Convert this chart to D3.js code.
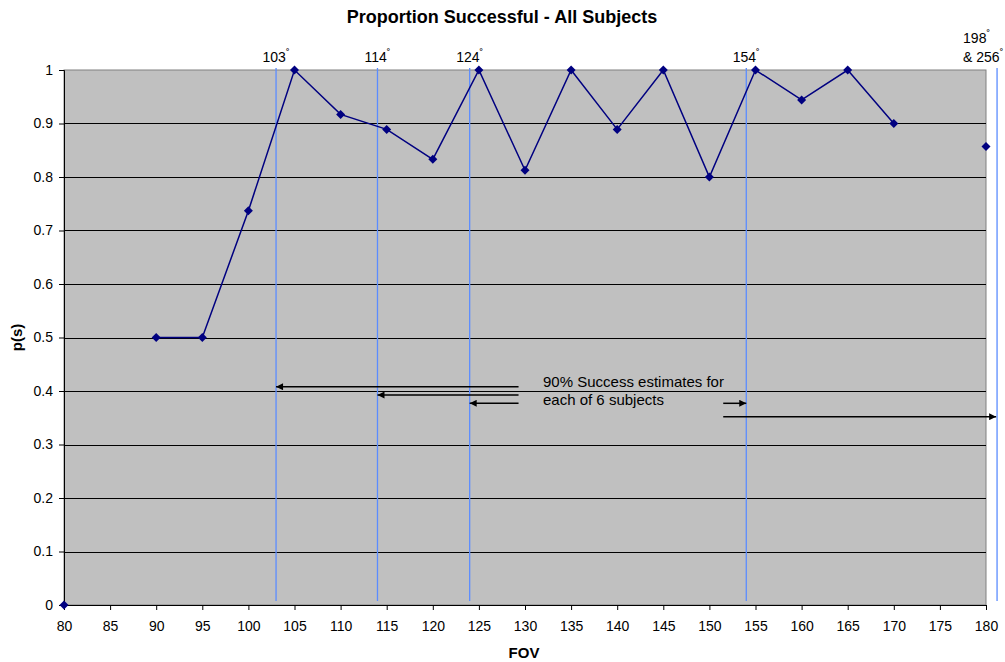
<!DOCTYPE html>
<html>
<head>
<meta charset="utf-8">
<script src="https://cdn.jsdelivr.net/npm/d3@7"></script>
<style>
  body { margin: 0; background: #fff; }
  svg { font-family: "Liberation Sans", Arial, sans-serif; }
</style>
</head>
<body>
<div id="chart"></div>
<script>
// FOV values and proportion successful (null = no data)
const fov = [80, 85, 90, 95, 100, 105, 110, 115, 120, 125, 130, 135, 140, 145, 150, 155, 160, 165, 170, 175, 180];
const pSuccess = [0, null, 0.5, 0.5, 0.737, 1, 0.917, 0.889, 0.833, 1, 0.8125, 1, 0.889, 1, 0.8, 1, 0.944, 1, 0.9, null, 0.857];

// 90% success estimates (vertical marker lines); last one sits just past the axis
const estimates = [103, 114, 124, 154, 181.2];
const estimateLabels = [["103"], ["114"], ["124"], ["154"], ["198", "& 256"]];

// arrows: from x0 to x1 at level y
const arrows = [
  {x0: 129.3, x1: 103, y: 0.408},
  {x0: 129.3, x1: 114, y: 0.3925},
  {x0: 129.3, x1: 124, y: 0.377},
  {x0: 151.5, x1: 154, y: 0.377},
  {x0: 151.5, x1: 181.1, y: 0.352}
];

const xTicks = d3.range(80, 181, 5);
const yTicks = d3.range(0, 1.01, 0.1);

const width = 1005, height = 662;
const margin = {top: 70, right: 19, bottom: 57, left: 64};

const svg = d3.select("#chart").append("svg")
    .attr("width", width)
    .attr("height", height);

const x = d3.scaleLinear().domain([80, 180]).range([margin.left, width - margin.right]);
const y = d3.scaleLinear().domain([0, 1]).range([height - margin.bottom, margin.top]);

// plot background
svg.append("rect")
    .attr("x", x(80)).attr("y", y(1))
    .attr("width", x(180) - x(80)).attr("height", y(0) - y(1))
    .attr("fill", "#c0c0c0")
    .attr("stroke", "#808080");

// gridlines
svg.append("g")
  .selectAll("line")
  .data(yTicks.filter(d => d > 0.05 && d < 0.95))
  .join("line")
    .attr("x1", x(80)).attr("x2", x(180))
    .attr("y1", d => Math.round(y(d)) + 0.5).attr("y2", d => Math.round(y(d)) + 0.5)
    .attr("stroke", "#000")
    .attr("stroke-width", 1);

// estimate lines
svg.append("g")
  .selectAll("line")
  .data(estimates)
  .join("line")
    .attr("x1", d => x(d)).attr("x2", d => x(d))
    .attr("y1", y(1) - 2).attr("y2", y(0) - 4)
    .attr("stroke", "#5b8cff")
    .attr("stroke-width", 1.3);

// estimate labels (with degree sign)
svg.append("g")
    .attr("font-size", 14)
  .selectAll("text")
  .data(estimates)
  .join("text")
    .attr("text-anchor", (d, i) => estimateLabels[i].length > 1 ? "start" : "middle")
    .attr("x", (d, i) => estimateLabels[i].length > 1 ? x(d) - 34 : x(d))
    .attr("y", (d, i) => 62 - (estimateLabels[i].length - 1) * 19)
    .each(function(d, i) {
      const t = d3.select(this);
      const x0 = t.attr("x");
      estimateLabels[i].forEach((s, j) => {
        const ts = t.append("tspan").text(s);
        if (j > 0) ts.attr("x", x0).attr("y", 62);
        t.append("tspan")
          .attr("font-size", 11)
          .attr("baseline-shift", "5")
          .text("˚");
      });
    });

// axes
const xAxis = d3.axisBottom(x).tickValues(xTicks).tickSize(5).tickPadding(11).tickFormat(d3.format("d"));
const gx = svg.append("g")
    .attr("transform", `translate(0,${y(0)})`)
    .call(xAxis);
gx.selectAll("text").attr("font-size", 14).attr("fill", "#000").attr("font-family", "Liberation Sans, Arial, sans-serif");

const yAxis = d3.axisLeft(y).tickValues(yTicks).tickSize(5).tickPadding(6).tickFormat(d => d3.format("")(+d.toFixed(1)));
const gy = svg.append("g")
    .attr("transform", `translate(${x(80)},0)`)
    .call(yAxis);
gy.selectAll("text").attr("font-size", 14).attr("fill", "#000").attr("font-family", "Liberation Sans, Arial, sans-serif");
svg.selectAll(".domain").attr("stroke", "#000");

// arrows
svg.append("defs").append("marker")
    .attr("id", "arrowhead")
    .attr("viewBox", "0 0 10 10")
    .attr("refX", 10).attr("refY", 5)
    .attr("markerWidth", 8).attr("markerHeight", 7)
    .attr("markerUnits", "userSpaceOnUse")
    .attr("orient", "auto")
  .append("path")
    .attr("d", "M0,0L10,5L0,10Z")
    .attr("fill", "#000");

svg.append("g")
  .selectAll("line")
  .data(arrows)
  .join("line")
    .attr("x1", d => x(d.x0)).attr("x2", d => x(d.x1))
    .attr("y1", d => y(d.y)).attr("y2", d => y(d.y))
    .attr("stroke", "#000")
    .attr("stroke-width", 1.5)
    .attr("marker-end", "url(#arrowhead)");

svg.append("text")
    .attr("x", 543).attr("y", 387)
    .attr("font-size", 15)
  .call(t => t.append("tspan").attr("x", 543).text("90% Success estimates for"))
  .call(t => t.append("tspan").attr("x", 543).attr("dy", 18).text("each of 6 subjects"));

// data line
const pts = fov.map((f, i) => ({f, p: pSuccess[i]}));
const line = d3.line()
    .defined(d => d.p !== null)
    .x(d => x(d.f))
    .y(d => y(d.p));

svg.append("path")
    .datum(pts)
    .attr("fill", "none")
    .attr("stroke", "#000080")
    .attr("stroke-width", 1.5)
    .attr("d", line);

svg.append("g")
  .selectAll("path")
  .data(pts.filter(d => d.p !== null))
  .join("path")
    .attr("transform", d => `translate(${x(d.f)},${y(d.p)})`)
    .attr("d", "M0,-4.5L4.5,0L0,4.5L-4.5,0Z")
    .attr("fill", "#000080");

// titles
svg.append("text")
    .attr("x", 502).attr("y", 23)
    .attr("text-anchor", "middle")
    .attr("font-size", 18).attr("font-weight", "bold")
    .text("Proportion Successful - All Subjects");

svg.append("text")
    .attr("x", 524).attr("y", 658)
    .attr("text-anchor", "middle")
    .attr("font-size", 15).attr("font-weight", "bold")
    .text("FOV");

svg.append("text")
    .attr("transform", `translate(22,${(y(0) + y(1)) / 2}) rotate(-90)`)
    .attr("text-anchor", "middle")
    .attr("font-size", 15).attr("font-weight", "bold")
    .text("p(s)");
</script>
</body>
</html>
